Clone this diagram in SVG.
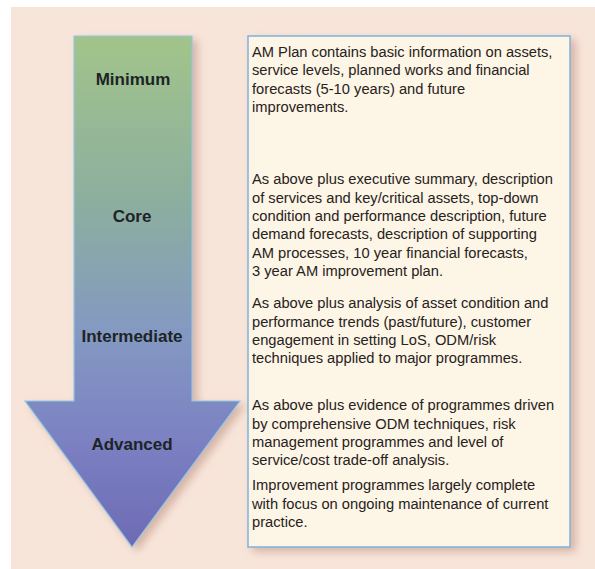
<svg xmlns="http://www.w3.org/2000/svg" width="595" height="569" viewBox="0 0 595 569">
  <defs>
    <linearGradient id="arrowGrad" gradientUnits="userSpaceOnUse" x1="0" y1="36" x2="0" y2="547">
      <stop offset="0" stop-color="#a2c48a"/>
      <stop offset="0.33" stop-color="#8cae9f"/>
      <stop offset="0.58" stop-color="#8499c2"/>
      <stop offset="0.8" stop-color="#7b80c2"/>
      <stop offset="1" stop-color="#6d6ab4"/>
    </linearGradient>
    <filter id="shadow" x="-10%" y="-10%" width="125%" height="125%">
      <feDropShadow dx="5" dy="4" stdDeviation="4" flood-color="#b98a7c" flood-opacity="0.55"/>
    </filter>
    <style>
      .lvl { font-family: "Liberation Sans", Arial, sans-serif; font-size: 17px; font-weight: bold; fill: #1c2426; text-anchor: middle; }
      .txt { font-family: "Liberation Sans", Arial, sans-serif; font-size: 14.7px; fill: #262220; }
    </style>
  </defs>

  <rect id="background" x="11" y="7" width="584" height="562" fill="#f8e5da"/>

  <g id="arrow">
    <polygon points="74,36 192,36 192,401 240,401 132,547 25,401 74,401" fill="url(#arrowGrad)" stroke="#8ec8e6" stroke-width="1.2" filter="url(#shadow)"/>
  </g>

  <g id="level-minimum"><text class="lvl" x="133" y="85">Minimum</text></g>
  <g id="level-core"><text class="lvl" x="132" y="222">Core</text></g>
  <g id="level-intermediate"><text class="lvl" x="132" y="342">Intermediate</text></g>
  <g id="level-advanced"><text class="lvl" x="132" y="450">Advanced</text></g>

  <g id="description-box">
    <rect x="248" y="36" width="322" height="511" fill="#fdf5e6" stroke="#7fb2da" stroke-width="1.5" filter="url(#shadow)"/>
  </g>

  <g id="desc-minimum">
    <text class="txt" x="252" y="57">AM Plan contains basic information on assets,</text>
    <text class="txt" x="252" y="75">service levels, planned works and financial</text>
    <text class="txt" x="252" y="93.5">forecasts (5-10 years) and future</text>
    <text class="txt" x="252" y="112">improvements.</text>
  </g>

  <g id="desc-core">
    <text class="txt" x="252" y="184">As above plus executive summary, description</text>
    <text class="txt" x="252" y="202.5">of services and key/critical assets, top-down</text>
    <text class="txt" x="252" y="221">condition and performance description, future</text>
    <text class="txt" x="252" y="239">demand forecasts, description of supporting</text>
    <text class="txt" x="252" y="257.5">AM processes, 10 year financial forecasts,</text>
    <text class="txt" x="252" y="276">3 year AM improvement plan.</text>
  </g>

  <g id="desc-intermediate">
    <text class="txt" x="252" y="308">As above plus analysis of asset condition and</text>
    <text class="txt" x="252" y="326.5">performance trends (past/future), customer</text>
    <text class="txt" x="252" y="345">engagement in setting LoS, ODM/risk</text>
    <text class="txt" x="252" y="363">techniques applied to major programmes.</text>
  </g>

  <g id="desc-advanced">
    <text class="txt" x="252" y="410">As above plus evidence of programmes driven</text>
    <text class="txt" x="252" y="428.5">by comprehensive ODM techniques, risk</text>
    <text class="txt" x="252" y="447">management programmes and level of</text>
    <text class="txt" x="252" y="465">service/cost trade-off analysis.</text>
    <text class="txt" x="252" y="490">Improvement programmes largely complete</text>
    <text class="txt" x="252" y="508.5">with focus on ongoing maintenance of current</text>
    <text class="txt" x="252" y="527">practice.</text>
  </g>
</svg>
